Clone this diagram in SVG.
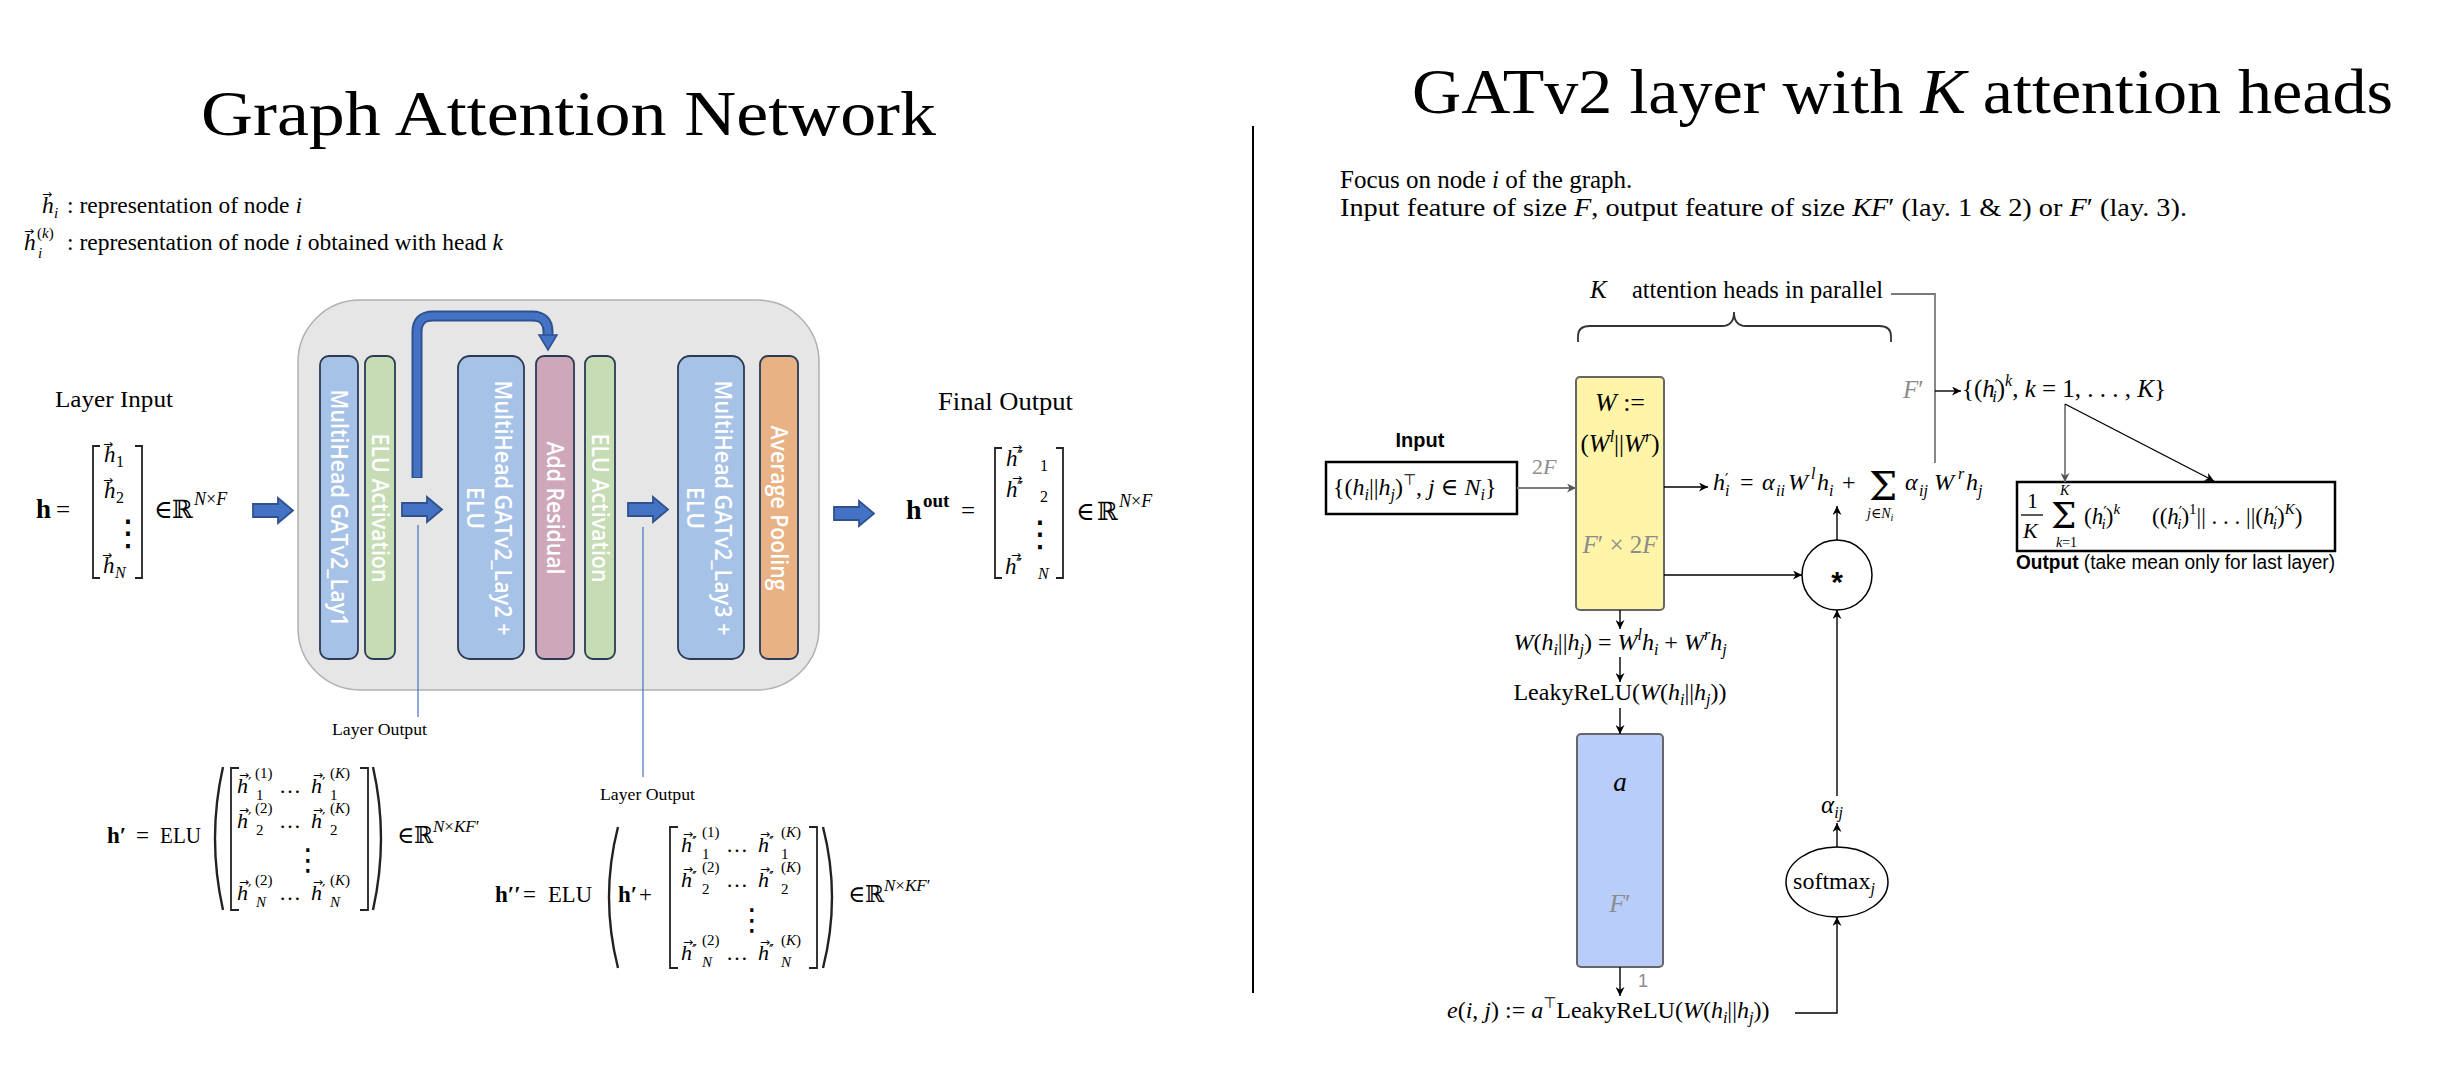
<svg xmlns="http://www.w3.org/2000/svg" width="2460" height="1082" viewBox="0 0 2460 1082">
<style>
text{font-family:"Liberation Serif","DejaVu Serif",serif;fill:#000}
.i{font-style:italic}
.b{font-weight:bold}
.g{fill:#8c8c8c}
.sans{font-family:"Liberation Sans",Arial,sans-serif}
.v{font-family:"DejaVu Sans",sans-serif;font-size:12px;font-style:normal}
.dots{font-family:"DejaVu Sans",sans-serif}
.pr{font-family:"DejaVu Sans",sans-serif;font-size:15px}
.bt{font-family:"Open Sans","Liberation Sans",sans-serif;fill:#fff;font-size:23px;font-weight:600;text-anchor:middle}
.ln{stroke:#000;stroke-width:1.4;fill:none}
.gl{stroke:#7a7a7a;stroke-width:1.8;fill:none}
.brk{stroke:#222;stroke-width:1.8;fill:none}
.par{stroke:#222;stroke-width:2.4;fill:none}
.bar{stroke:#2b3a55;stroke-width:1.8}
.blue{fill:#a7c2e7}
.green{fill:#c6dcb4}
.pink{fill:#cfa7ba}
.orange{fill:#e9b285}
.barrow{fill:#4472c4;stroke:#2f528f;stroke-width:1.8}
.lo{stroke:#4472c4;stroke-width:1.2}
</style>
<defs>
<marker id="ah" viewBox="0 0 10 10" refX="10" refY="5" markerWidth="11" markerHeight="9" markerUnits="userSpaceOnUse" orient="auto"><path d="M0,0 L10,5 L0,10 L3,5 Z" fill="#000"/></marker>
<marker id="ahg" viewBox="0 0 10 10" refX="10" refY="5" markerWidth="11" markerHeight="9" markerUnits="userSpaceOnUse" orient="auto"><path d="M0,0 L10,5 L0,10 L3,5 Z" fill="#555"/></marker>
<path id="barw" d="M0,6 H25 V0 L40,12.5 L25,25 V19 H0 Z"/>
</defs>

<!-- Titles -->
<text x="201" y="135" font-size="64" textLength="735" lengthAdjust="spacingAndGlyphs">Graph Attention Network</text>
<text x="1412" y="113" font-size="64" textLength="981" lengthAdjust="spacingAndGlyphs">GATv2 layer with <tspan class="i">K</tspan> attention heads</text>
<line x1="1253" y1="126" x2="1253" y2="993" stroke="#000" stroke-width="2"/>

<!-- Legend -->
<g id="legend">
<text font-size="23.5"><tspan class="v" x="42" y="198">→</tspan><tspan class="i" x="42" y="213">h</tspan><tspan x="54" y="218" font-size="15" class="i">i</tspan><tspan x="67" y="213">: representation of node </tspan><tspan class="i">i</tspan></text>
<text font-size="23.5"><tspan class="v" x="24" y="235">→</tspan><tspan class="i" x="24" y="250">h</tspan><tspan x="37" y="238" font-size="15">(<tspan class="i">k</tspan>)</tspan><tspan x="38" y="258" font-size="15" class="i">i</tspan><tspan x="67" y="250">: representation of node </tspan><tspan class="i">i</tspan><tspan> obtained with head </tspan><tspan class="i">k</tspan></text>
</g>

<!-- Left input -->
<g id="layer-input">
<text x="55" y="407" font-size="24" textLength="118" lengthAdjust="spacingAndGlyphs">Layer Input</text>
<text font-size="27"><tspan x="36" y="518" class="b">h</tspan><tspan x="56" y="518" font-size="25">=</tspan></text>
<path class="brk" d="M100,446 H93 V578 H100 M135,446 H142 V578 H135"/>
<text font-size="23"><tspan class="v" x="103" y="448">→</tspan><tspan class="i" x="104" y="462">h</tspan><tspan x="116" y="467" font-size="16">1</tspan><tspan class="v" x="103" y="484">→</tspan><tspan class="i" x="104" y="498">h</tspan><tspan x="116" y="503" font-size="16">2</tspan><tspan class="dots" x="110" y="545" font-size="36">⋮</tspan><tspan class="v" x="102" y="559">→</tspan><tspan class="i" x="103" y="573">h</tspan><tspan class="i" x="115" y="578" font-size="16">N</tspan></text>
<text font-size="25"><tspan x="154" y="518">∈</tspan><tspan x="172" y="518" font-family="DejaVu Serif">ℝ</tspan><tspan x="194" y="505" font-size="18" class="i">N</tspan><tspan font-size="18">×</tspan><tspan font-size="18" class="i">F</tspan></text>
</g>

<!-- Panel -->
<g id="panel">
<rect x="298" y="300" width="521" height="390" rx="62" fill="#e7e6e6" stroke="#b0b0b0" stroke-width="1.5"/>
</g>
<g id="bar-lay1"><rect class="bar blue" x="320" y="356" width="38" height="303" rx="9"/><text class="bt" transform="translate(339,508) rotate(90)" y="8" textLength="237" lengthAdjust="spacingAndGlyphs">MultiHead GATv2_Lay1</text></g>
<g id="bar-elu1"><rect class="bar green" x="365" y="356" width="30" height="303" rx="8"/><text class="bt" transform="translate(380,508) rotate(90)" y="8" textLength="149" lengthAdjust="spacingAndGlyphs">ELU Activation</text></g>
<g id="bar-lay2"><rect class="bar blue" x="458" y="356" width="66" height="303" rx="12"/><text class="bt" transform="translate(491,508) rotate(90)"><tspan x="0" y="-4" textLength="255" lengthAdjust="spacingAndGlyphs">MultiHead GATv2_Lay2 +</tspan><tspan x="0" y="24">ELU</tspan></text></g>
<g id="bar-res"><rect class="bar pink" x="536" y="356" width="38" height="303" rx="8"/><text class="bt" transform="translate(555,508) rotate(90)" y="8" textLength="133" lengthAdjust="spacingAndGlyphs">Add Residual</text></g>
<g id="bar-elu2"><rect class="bar green" x="585" y="356" width="30" height="303" rx="8"/><text class="bt" transform="translate(600,508) rotate(90)" y="8" textLength="149" lengthAdjust="spacingAndGlyphs">ELU Activation</text></g>
<g id="bar-lay3"><rect class="bar blue" x="678" y="356" width="66" height="303" rx="12"/><text class="bt" transform="translate(711,508) rotate(90)"><tspan x="0" y="-4" textLength="255" lengthAdjust="spacingAndGlyphs">MultiHead GATv2_Lay3 +</tspan><tspan x="0" y="24">ELU</tspan></text></g>
<g id="bar-pool"><rect class="bar orange" x="760" y="356" width="38" height="303" rx="8"/><text class="bt" transform="translate(779,508) rotate(90)" y="8" textLength="165" lengthAdjust="spacingAndGlyphs">Average Pooling</text></g>

<!-- Left connectors -->
<g id="left-connectors">
<use href="#barw" class="barrow" x="253" y="498"/>
<use href="#barw" class="barrow" x="402" y="497"/>
<use href="#barw" class="barrow" x="628" y="497"/>
<use href="#barw" class="barrow" x="834" y="501"/>
<path d="M417,478 V332 Q417,316 433,316 H532 Q548,316 548,332 V336" fill="none" stroke="#2f528f" stroke-width="11"/>
<path d="M417,477 V332 Q417,316 433,316 H532 Q548,316 548,332 V337" fill="none" stroke="#4472c4" stroke-width="7"/>
<path d="M539,335 H557 L548,350 Z" fill="#4472c4" stroke="#2f528f" stroke-width="1.5"/>
<line class="lo" x1="418" y1="525" x2="418" y2="717"/>
<line class="lo" x1="643" y1="527" x2="643" y2="777"/>
</g>
<text x="332" y="735" font-size="17" textLength="95" lengthAdjust="spacingAndGlyphs">Layer Output</text>
<text x="600" y="800" font-size="17" textLength="95" lengthAdjust="spacingAndGlyphs">Layer Output</text>

<!-- Final output -->
<g id="final-output">
<text x="938" y="410" font-size="25" textLength="135" lengthAdjust="spacingAndGlyphs">Final Output</text>
<text font-size="28" class="b"><tspan x="906" y="519">h</tspan><tspan x="923" y="507" font-size="19">out</tspan><tspan x="961" y="519" font-size="25" font-weight="normal">=</tspan></text>
<path class="brk" d="M1002,448 H995 V578 H1002 M1056,448 H1063 V578 H1056"/>
<text font-size="23"><tspan class="v" x="1012" y="451">→</tspan><tspan class="i" x="1006" y="466">h</tspan><tspan class="pr" x="1017" y="462" letter-spacing="-2">′′′</tspan><tspan x="1040" y="471" font-size="16">1</tspan><tspan class="v" x="1012" y="482">→</tspan><tspan class="i" x="1006" y="497">h</tspan><tspan class="pr" x="1017" y="493" letter-spacing="-2">′′′</tspan><tspan x="1040" y="502" font-size="16">2</tspan><tspan class="dots" x="1022" y="546" font-size="36">⋮</tspan><tspan class="v" x="1011" y="559">→</tspan><tspan class="i" x="1005" y="574">h</tspan><tspan class="pr" x="1016" y="570" letter-spacing="-2">′′′</tspan><tspan x="1038" y="579" font-size="16" class="i">N</tspan></text>
<text font-size="25"><tspan x="1076" y="520">∈</tspan><tspan x="1097" y="520" font-family="DejaVu Serif">ℝ</tspan><tspan x="1119" y="507" font-size="18" class="i">N</tspan><tspan font-size="18">×</tspan><tspan font-size="18" class="i">F</tspan></text>
</g>

<!-- h' formula -->
<g id="h1-formula">
<text font-size="23"><tspan x="107" y="843" class="b">h′</tspan><tspan x="136" y="843">=</tspan><tspan x="160" y="843" textLength="41" lengthAdjust="spacingAndGlyphs">ELU</tspan></text>
<path class="par" d="M223,767 Q207,838 223,910 M373,767 Q389,838 373,910"/>
<path class="brk" d="M239,768 H231 V910 H239 M360,768 H368 V910 H360"/>
<text font-size="22">
<tspan class="v" x="239" y="779">→</tspan><tspan class="v" x="313" y="779">→</tspan><tspan class="v" x="239" y="814">→</tspan><tspan class="v" x="313" y="814">→</tspan><tspan class="v" x="239" y="886">→</tspan><tspan class="v" x="313" y="886">→</tspan>
<tspan class="i" x="237" y="793">h</tspan><tspan class="pr" x="248" y="789">′</tspan><tspan x="255" y="778" font-size="15">(1)</tspan><tspan x="256" y="800" font-size="15">1</tspan><tspan x="279" y="793">…</tspan><tspan class="i" x="311" y="793">h</tspan><tspan class="pr" x="322" y="789">′</tspan><tspan x="330" y="778" font-size="15">(<tspan class="i">K</tspan>)</tspan><tspan x="330" y="800" font-size="15">1</tspan>
<tspan class="i" x="237" y="828">h</tspan><tspan class="pr" x="248" y="824">′</tspan><tspan x="255" y="813" font-size="15">(2)</tspan><tspan x="256" y="835" font-size="15">2</tspan><tspan x="279" y="828">…</tspan><tspan class="i" x="311" y="828">h</tspan><tspan class="pr" x="322" y="824">′</tspan><tspan x="330" y="813" font-size="15">(<tspan class="i">K</tspan>)</tspan><tspan x="330" y="835" font-size="15">2</tspan>
<tspan class="dots" x="293" y="870" font-size="30">⋮</tspan>
<tspan class="i" x="237" y="900">h</tspan><tspan class="pr" x="248" y="896">′</tspan><tspan x="255" y="885" font-size="15">(2)</tspan><tspan x="256" y="907" font-size="15" class="i">N</tspan><tspan x="279" y="900">…</tspan><tspan class="i" x="311" y="900">h</tspan><tspan class="pr" x="322" y="896">′</tspan><tspan x="330" y="885" font-size="15">(<tspan class="i">K</tspan>)</tspan><tspan x="330" y="907" font-size="15" class="i">N</tspan>
</text>
<text font-size="23"><tspan x="397" y="843">∈</tspan><tspan x="414" y="843" font-family="DejaVu Serif">ℝ</tspan><tspan x="433" y="832" font-size="17" class="i">N</tspan><tspan font-size="17">×</tspan><tspan font-size="17" class="i">KF</tspan><tspan font-size="17">′</tspan></text>
</g>

<!-- h'' formula -->
<g id="h2-formula">
<text font-size="23"><tspan x="495" y="902" class="b">h′′</tspan><tspan x="523" y="902">=</tspan><tspan x="548" y="902" textLength="44" lengthAdjust="spacingAndGlyphs">ELU</tspan><tspan x="618" y="902" class="b">h′</tspan><tspan x="639" y="902">+</tspan></text>
<path class="par" d="M618,827 Q600,897 618,968 M823,827 Q841,897 823,968"/>
<path class="brk" d="M678,827 H670 V968 H678 M809,827 H817 V968 H809"/>
<text font-size="22">
<tspan class="v" x="683" y="838">→</tspan><tspan class="v" x="760" y="838">→</tspan><tspan class="v" x="683" y="873">→</tspan><tspan class="v" x="760" y="873">→</tspan><tspan class="v" x="683" y="946">→</tspan><tspan class="v" x="760" y="946">→</tspan>
<tspan class="i" x="681" y="852">h</tspan><tspan class="pr" x="692" y="848" letter-spacing="-2">′′</tspan><tspan x="702" y="837" font-size="15">(1)</tspan><tspan x="702" y="859" font-size="15">1</tspan><tspan x="726" y="852">…</tspan><tspan class="i" x="758" y="852">h</tspan><tspan class="pr" x="769" y="848" letter-spacing="-2">′′</tspan><tspan x="781" y="837" font-size="15">(<tspan class="i">K</tspan>)</tspan><tspan x="781" y="859" font-size="15">1</tspan>
<tspan class="i" x="681" y="887">h</tspan><tspan class="pr" x="692" y="883" letter-spacing="-2">′′</tspan><tspan x="702" y="872" font-size="15">(2)</tspan><tspan x="702" y="894" font-size="15">2</tspan><tspan x="726" y="887">…</tspan><tspan class="i" x="758" y="887">h</tspan><tspan class="pr" x="769" y="883" letter-spacing="-2">′′</tspan><tspan x="781" y="872" font-size="15">(<tspan class="i">K</tspan>)</tspan><tspan x="781" y="894" font-size="15">2</tspan>
<tspan class="dots" x="737" y="930" font-size="30">⋮</tspan>
<tspan class="i" x="681" y="960">h</tspan><tspan class="pr" x="692" y="956" letter-spacing="-2">′′</tspan><tspan x="702" y="945" font-size="15">(2)</tspan><tspan x="702" y="967" font-size="15" class="i">N</tspan><tspan x="726" y="960">…</tspan><tspan class="i" x="758" y="960">h</tspan><tspan class="pr" x="769" y="956" letter-spacing="-2">′′</tspan><tspan x="781" y="945" font-size="15">(<tspan class="i">K</tspan>)</tspan><tspan x="781" y="967" font-size="15" class="i">N</tspan>
</text>
<text font-size="23"><tspan x="848" y="902">∈</tspan><tspan x="865" y="902" font-family="DejaVu Serif">ℝ</tspan><tspan x="884" y="891" font-size="17" class="i">N</tspan><tspan font-size="17">×</tspan><tspan font-size="17" class="i">KF</tspan><tspan font-size="17">′</tspan></text>
</g>

<!-- Right description -->
<text x="1340" y="188" font-size="25">Focus on node <tspan class="i">i</tspan> of the graph.</text>
<text x="1340" y="216" font-size="25" textLength="847" lengthAdjust="spacingAndGlyphs">Input feature of size <tspan class="i">F</tspan>, output feature of size <tspan class="i">KF</tspan>′ (lay. 1 &amp; 2) or <tspan class="i">F</tspan>′ (lay. 3).</text>

<!-- Right diagram nodes -->
<g id="heads-label">
<text font-size="25"><tspan x="1590" y="298" class="i">K</tspan><tspan x="1632" y="298" textLength="251" lengthAdjust="spacingAndGlyphs">attention heads in parallel</tspan></text>
<path d="M1578,342 V336 Q1578,326 1590,326 H1722 Q1734,326 1734,312 Q1734,326 1746,326 H1879 Q1891,326 1891,336 V342" fill="none" stroke="#333" stroke-width="1.8"/>
</g>
<g id="input-node">
<text x="1420" y="447" font-size="20" class="sans b" text-anchor="middle">Input</text>
<rect x="1326" y="462" width="191" height="52" fill="#fff" stroke="#000" stroke-width="2.5"/>
<text font-size="24"><tspan x="1333" y="495">{(</tspan><tspan class="i">h</tspan><tspan font-size="16" class="i" dy="5">i</tspan><tspan dy="-5">||</tspan><tspan class="i">h</tspan><tspan font-size="16" class="i" dy="5">j</tspan><tspan dy="-5">)</tspan><tspan font-size="15" dy="-10" font-family="DejaVu Sans">⊤</tspan><tspan dy="10">, </tspan><tspan class="i">j</tspan><tspan> ∈ </tspan><tspan class="i">N</tspan><tspan font-size="16" class="i" dy="5">i</tspan><tspan dy="-5">}</tspan></text>
</g>
<g id="W-node">
<rect x="1576" y="377" width="88" height="233" rx="4" fill="#fff4a8" stroke="#666" stroke-width="2"/>
<text x="1620" y="411" font-size="26" text-anchor="middle"><tspan class="i">W</tspan> :=</text>
<text x="1620" y="452" font-size="25" text-anchor="middle">(<tspan class="i">W</tspan><tspan class="i" font-size="16" dy="-10">l</tspan><tspan dy="10">||</tspan><tspan class="i">W</tspan><tspan class="i" font-size="16" dy="-10">r</tspan><tspan dy="10">)</tspan></text>
<text x="1620" y="553" font-size="25" text-anchor="middle" class="g"><tspan class="i">F</tspan>′ × 2<tspan class="i">F</tspan></text>
</g>
<g id="hi-formula">
<text font-size="24"><tspan x="1713" y="490" class="i">h</tspan><tspan class="pr" x="1725" y="485">′</tspan><tspan x="1725" y="496" font-size="16" class="i">i</tspan><tspan x="1740" y="490">=</tspan><tspan x="1762" y="490" class="i">α</tspan><tspan x="1776" y="496" font-size="16" class="i">ii</tspan><tspan x="1788" y="490" class="i">W</tspan><tspan x="1811" y="479" font-size="16" class="i">l</tspan><tspan x="1817" y="490" class="i">h</tspan><tspan x="1829" y="496" font-size="16" class="i">i</tspan><tspan x="1842" y="490">+</tspan><tspan x="1869" y="500" font-size="40" font-family="DejaVu Serif">Σ</tspan><tspan x="1867" y="518" font-size="14" class="i">j</tspan><tspan font-size="14">∈</tspan><tspan class="i" font-size="14">N</tspan><tspan class="i" font-size="10" dy="3">i</tspan><tspan x="1905" y="490" class="i">α</tspan><tspan x="1919" y="496" font-size="16" class="i">ij</tspan><tspan x="1934" y="490" class="i">W</tspan><tspan x="1958" y="479" font-size="16" class="i">r</tspan><tspan x="1966" y="490" class="i">h</tspan><tspan x="1978" y="496" font-size="16" class="i">j</tspan></text>
</g>
<g id="mult-node">
<circle cx="1837" cy="575" r="35" fill="#fff" stroke="#000" stroke-width="1.5"/>
<text x="1837" y="592" font-size="30" class="b sans" text-anchor="middle">*</text>
</g>
<g id="Wsum-text"><text x="1620" y="650" font-size="24" text-anchor="middle"><tspan class="i">W</tspan>(<tspan class="i">h</tspan><tspan font-size="16" class="i" dy="5">i</tspan><tspan dy="-5">||</tspan><tspan class="i">h</tspan><tspan font-size="16" class="i" dy="5">j</tspan><tspan dy="-5">) = </tspan><tspan class="i">W</tspan><tspan font-size="16" class="i" dy="-10">l</tspan><tspan class="i" dy="10">h</tspan><tspan font-size="16" class="i" dy="5">i</tspan><tspan dy="-5"> + </tspan><tspan class="i">W</tspan><tspan font-size="16" class="i" dy="-10">r</tspan><tspan class="i" dy="10">h</tspan><tspan font-size="16" class="i" dy="5">j</tspan></text></g>
<g id="leaky-text"><text x="1620" y="700" font-size="24" text-anchor="middle">LeakyReLU(<tspan class="i">W</tspan>(<tspan class="i">h</tspan><tspan font-size="16" class="i" dy="5">i</tspan><tspan dy="-5">||</tspan><tspan class="i">h</tspan><tspan font-size="16" class="i" dy="5">j</tspan><tspan dy="-5">))</tspan></text></g>
<g id="a-node">
<rect x="1577" y="734" width="86" height="233" rx="4" fill="#b8cdfa" stroke="#666" stroke-width="2"/>
<text x="1620" y="791" font-size="27" class="i" text-anchor="middle">a</text>
<text x="1620" y="912" font-size="26" class="g" text-anchor="middle"><tspan class="i">F</tspan>′</text>
</g>
<g id="e-text"><text x="1447" y="1018" font-size="24"><tspan class="i">e</tspan>(<tspan class="i">i</tspan>, <tspan class="i">j</tspan>) := <tspan class="i">a</tspan><tspan font-size="15" dy="-10" font-family="DejaVu Sans">⊤</tspan><tspan dy="10">LeakyReLU(</tspan><tspan class="i">W</tspan>(<tspan class="i">h</tspan><tspan font-size="16" class="i" dy="5">i</tspan><tspan dy="-5">||</tspan><tspan class="i">h</tspan><tspan font-size="16" class="i" dy="5">j</tspan><tspan dy="-5">))</tspan></text></g>
<g id="softmax-node">
<ellipse cx="1837" cy="882" rx="51" ry="35" fill="#fff" stroke="#000" stroke-width="1.5"/>
<text x="1834" y="889" font-size="24" text-anchor="middle">softmax<tspan font-size="16" class="i" dy="5">j</tspan></text>
</g>
<g id="alpha-text"><text x="1821" y="813" font-size="25"><tspan class="i">α</tspan><tspan font-size="16" class="i" dy="5">ij</tspan></text></g>
<g id="heads-set"><text x="1962" y="397" font-size="25">{(<tspan class="i">h</tspan><tspan class="pr" dy="-6">′</tspan><tspan font-size="16" class="i" dx="-6" dy="11">i</tspan><tspan dy="-5">)</tspan><tspan font-size="16" class="i" dy="-11">k</tspan><tspan dy="11">, </tspan><tspan class="i">k</tspan> = 1, . . . , <tspan class="i">K</tspan>}</text></g>
<g id="output-node">
<rect x="2017" y="482" width="318" height="69" fill="#fff" stroke="#000" stroke-width="2.5"/>
<line x1="2021" y1="515" x2="2043" y2="515" stroke="#000" stroke-width="1.3"/>
<text font-size="22"><tspan x="2027" y="508">1</tspan><tspan x="2023" y="538" class="i">K</tspan><tspan x="2051" y="528" font-size="36" font-family="DejaVu Serif">Σ</tspan><tspan x="2060" y="495" font-size="14" class="i">K</tspan><tspan x="2056" y="547" font-size="14" class="i">k</tspan><tspan font-size="14">=1</tspan></text>
<text x="2084" y="524" font-size="23">(<tspan class="i">h</tspan><tspan class="pr" font-size="14" dy="-6">′</tspan><tspan font-size="15" class="i" dx="-5" dy="11">i</tspan><tspan dy="-5">)</tspan><tspan font-size="15" class="i" dy="-10">k</tspan></text>
<text x="2152" y="524" font-size="23">((<tspan class="i">h</tspan><tspan class="pr" font-size="14" dy="-6">′</tspan><tspan font-size="15" class="i" dx="-5" dy="11">i</tspan><tspan dy="-5">)</tspan><tspan font-size="15" dy="-10">1</tspan><tspan dy="10">|| . . . ||(</tspan><tspan class="i">h</tspan><tspan class="pr" font-size="14" dy="-6">′</tspan><tspan font-size="15" class="i" dx="-5" dy="11">i</tspan><tspan dy="-5">)</tspan><tspan font-size="15" class="i" dy="-10">K</tspan><tspan dy="10">)</tspan></text>
<text x="2016" y="569" font-size="20" class="sans" textLength="319" lengthAdjust="spacingAndGlyphs"><tspan class="b">Output</tspan> (take mean only for last layer)</text>
</g>

<!-- Right connectors -->
<g id="connectors">
<line class="gl" x1="1517" y1="488" x2="1576" y2="488" marker-end="url(#ahg)"/>
<text x="1532" y="474" font-size="22" class="g">2<tspan class="i">F</tspan></text>
<line class="ln" x1="1664" y1="487" x2="1708" y2="487" marker-end="url(#ah)"/>
<line class="ln" x1="1664" y1="575" x2="1802" y2="575" marker-end="url(#ah)"/>
<line class="ln" x1="1837" y1="540" x2="1837" y2="506" marker-end="url(#ah)"/>
<line class="ln" x1="1620" y1="610" x2="1620" y2="629" marker-end="url(#ah)"/>
<line class="ln" x1="1620" y1="657" x2="1620" y2="682" marker-end="url(#ah)"/>
<line class="ln" x1="1620" y1="708" x2="1620" y2="734" marker-end="url(#ah)"/>
<line class="ln" x1="1620" y1="967" x2="1620" y2="996" marker-end="url(#ah)"/>
<text x="1638" y="987" font-size="18" class="sans g">1</text>
<path class="ln" d="M1795,1013 H1837 V917" marker-end="url(#ah)"/>
<line class="ln" x1="1837" y1="847" x2="1837" y2="823" marker-end="url(#ah)"/>
<line class="ln" x1="1837" y1="796" x2="1837" y2="610" marker-end="url(#ah)"/>
<path class="gl" d="M1891,294 H1935 V463"/>
<line class="ln" x1="1935" y1="391" x2="1961" y2="391" marker-end="url(#ah)"/>
<text x="1903" y="398" font-size="25" class="g"><tspan class="i">F</tspan>′</text>
<line class="gl" x1="2065" y1="404" x2="2065" y2="482" marker-end="url(#ahg)"/>
<line class="ln" x1="2065" y1="404" x2="2214" y2="481" marker-end="url(#ah)"/>
</g>
</svg>
